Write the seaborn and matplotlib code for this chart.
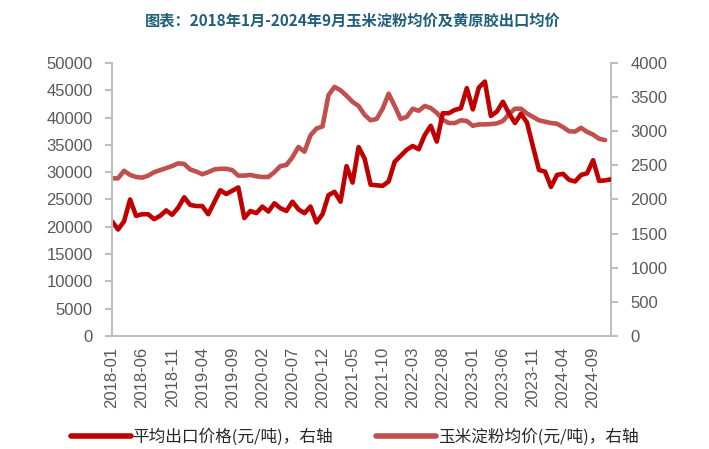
import numpy as np
import pandas as pd
import seaborn as sns
from matplotlib import pyplot as plt

# monthly data, starting 2018-01
export_price = [21000, 19500, 21000, 25000, 22000, 22300, 22300, 21400, 22000, 23000,
                22200, 23500, 25400, 24000, 23800, 23800, 22300, 24500, 26700, 26000,
                26600, 27200, 21600, 22900, 22500, 23700, 22800, 24300, 23400, 22900,
                24600, 23200, 22500, 23700, 20800, 22300, 25800, 26400, 24600, 31100,
                28100, 34600, 32500, 27700, 27600, 27500, 28300, 31900, 33000, 34100,
                34800, 34200, 36800, 38500, 35600, 40800, 40800, 41400, 41700, 45400,
                41500, 45500, 46600, 40300, 41100, 42900, 40800, 39000, 40700, 39100,
                34700, 30400, 30100, 27300, 29500, 29700, 28600, 28300, 29500, 29800,
                32200, 28400, 28500, 28700]
starch_price = [2310, 2310, 2420, 2360, 2330, 2320, 2350, 2400, 2430, 2460,
                2490, 2530, 2520, 2440, 2410, 2370, 2400, 2440, 2450, 2450,
                2430, 2350, 2350, 2360, 2340, 2330, 2330, 2400, 2490, 2505,
                2620, 2770, 2700, 2940, 3040, 3070, 3530, 3650, 3600, 3520,
                3430, 3370, 3240, 3160, 3180, 3330, 3550, 3370, 3180, 3210,
                3330, 3300, 3370, 3340, 3270, 3170, 3120, 3120, 3160, 3150,
                3080, 3100, 3100, 3105, 3115, 3150, 3250, 3330, 3330, 3260,
                3210, 3160, 3140, 3120, 3110, 3060, 3000, 2995, 3050, 2990,
                2950, 2890, 2870]

months = pd.date_range("2018-01-01", periods=len(export_price), freq="MS")
tick_labels = [d.strftime("%Y-%m") for d in months[:81:5]]

df1 = pd.DataFrame({"i": np.arange(len(export_price)), "v": export_price})
df2 = pd.DataFrame({"i": np.arange(len(starch_price)), "v": starch_price})

sns.set_style("white")
plt.rcParams['font.family'] = ['Liberation Sans', 'Noto Sans CJK SC', 'DejaVu Sans']

fig = plt.figure(figsize=(7.09, 4.49), dpi=100)
ax = fig.add_axes([0.158, 0.2517, 0.704, 0.608])
ax2 = ax.twinx()

dark = "#C00000"
light = "#C0504D"
grey = "#BFBFBF"
txt = "#595959"

sns.lineplot(data=df1, x="i", y="v", ax=ax, color=dark, linewidth=3.3, legend=False)
sns.lineplot(data=df2, x="i", y="v", ax=ax2, color=light, linewidth=3.3, legend=False)
ax.set_zorder(ax2.get_zorder() + 1)
ax.patch.set_visible(False)

ax.set_xlim(0, 83)
ax.set_ylim(0, 50000)
ax2.set_ylim(0, 4000)
ax.set_yticks(range(0, 50001, 5000))
ax2.set_yticks(range(0, 4001, 500))
ax.set_xticks(range(0, 81, 5))
ax.set_xticklabels(tick_labels, rotation=90)
ax.set_xlabel("")
ax.set_ylabel("")
ax2.set_ylabel("")

for a in (ax, ax2):
    for s in a.spines.values():
        s.set_color(grey)
        s.set_linewidth(1.5)
    a.spines["top"].set_visible(False)
    a.tick_params(colors=grey, labelcolor=txt, labelsize=12, length=5, width=1.5)
ax.spines["right"].set_visible(False)
ax2.spines["left"].set_visible(False)
ax2.spines["bottom"].set_visible(False)
ax.tick_params(axis="y", pad=9)
ax2.tick_params(axis="y", pad=9)
ax.tick_params(axis="x", pad=3)

fig.text(0.497, 0.955, "图表：2018年1月-2024年9月玉米淀粉均价及黄原胶出口均价",
         ha="center", va="center", fontsize=11, fontweight="bold", color="#1F5F7A",
         family=['Noto Sans CJK SC', 'DejaVu Sans'])

h1 = plt.Line2D([], [], color=dark, linewidth=4)
h2 = plt.Line2D([], [], color=light, linewidth=4)
fig.legend([h1, h2], ["平均出口价格(元/吨)，右轴", "玉米淀粉均价(元/吨)，右轴"],
           loc="center", bbox_to_anchor=(0.5, 0.027), ncol=2, frameon=False,
           handlelength=3.6, handletextpad=0.1, columnspacing=2.6,
           prop={"family": ['Noto Sans CJK SC', 'DejaVu Sans'], "size": 12})

fig.savefig("out.png", dpi=100)
